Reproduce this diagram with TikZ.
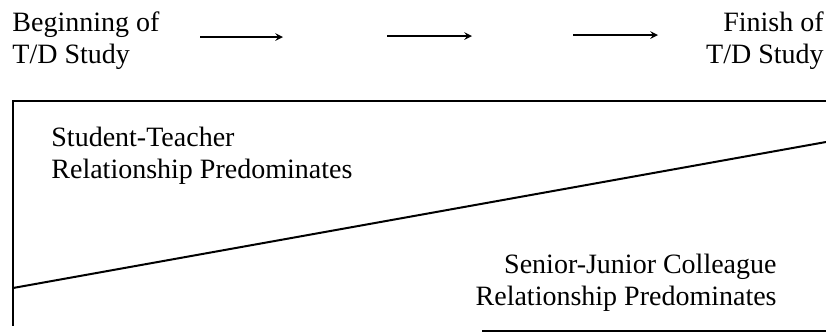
\documentclass[tikz,border=0pt]{standalone}
\usepackage{fontspec}
\setmainfont{Liberation Serif}
\usetikzlibrary{arrows}
\usetikzlibrary{positioning}

\begin{document}
\begin{tikzpicture}[x=0.5pt, y=-0.5pt]
\tikzstyle{caption} = [inner sep=0pt, font=\fontsize{14}{16}\selectfont]
\tikzstyle{phase} = [->, >=stealth, line width=0.7pt]
\tikzstyle{frame} = [line width=1pt]
\useasboundingbox (0,0) rectangle (826,333);
\node (begin) [caption, align=left, anchor=north west] at (12,11) {Beginning of\\T/D Study};
\node (finish) [caption, align=right, anchor=north east] at (824,11) {Finish of\\T/D Study};
\coordinate (p1) at (200,37);
\coordinate (q1) at (283,37);
\coordinate (p2) at (387,36);
\coordinate (q2) at (472,36);
\coordinate (p3) at (573,35);
\coordinate (q3) at (658,35);
\draw [phase] (p1) -- (q1);
\draw [phase] (p2) -- (q2);
\draw [phase] (p3) -- (q3);
% the frame, open on the right
\coordinate (tl) at (13,101);
\coordinate (tr) at (826,101);
\coordinate (bl) at (13,326);
\coordinate (bm) at (482,331);
\coordinate (br) at (826,331);
\draw [frame] (tr) -- (tl) -- (bl);
\draw [frame] (bm) -- (br);
\coordinate (dl) at (13,288);
\coordinate (dr) at (826,142);
\draw [frame] (dl) -- (dr);
\node (student) [caption, align=left, anchor=north west] at (51,127) {Student-Teacher\\Relationship Predominates};
\node (senior) [caption, align=right, anchor=north east] at (777,254) {Senior-Junior Colleague\\Relationship Predominates};
\end{tikzpicture}
\end{document}
